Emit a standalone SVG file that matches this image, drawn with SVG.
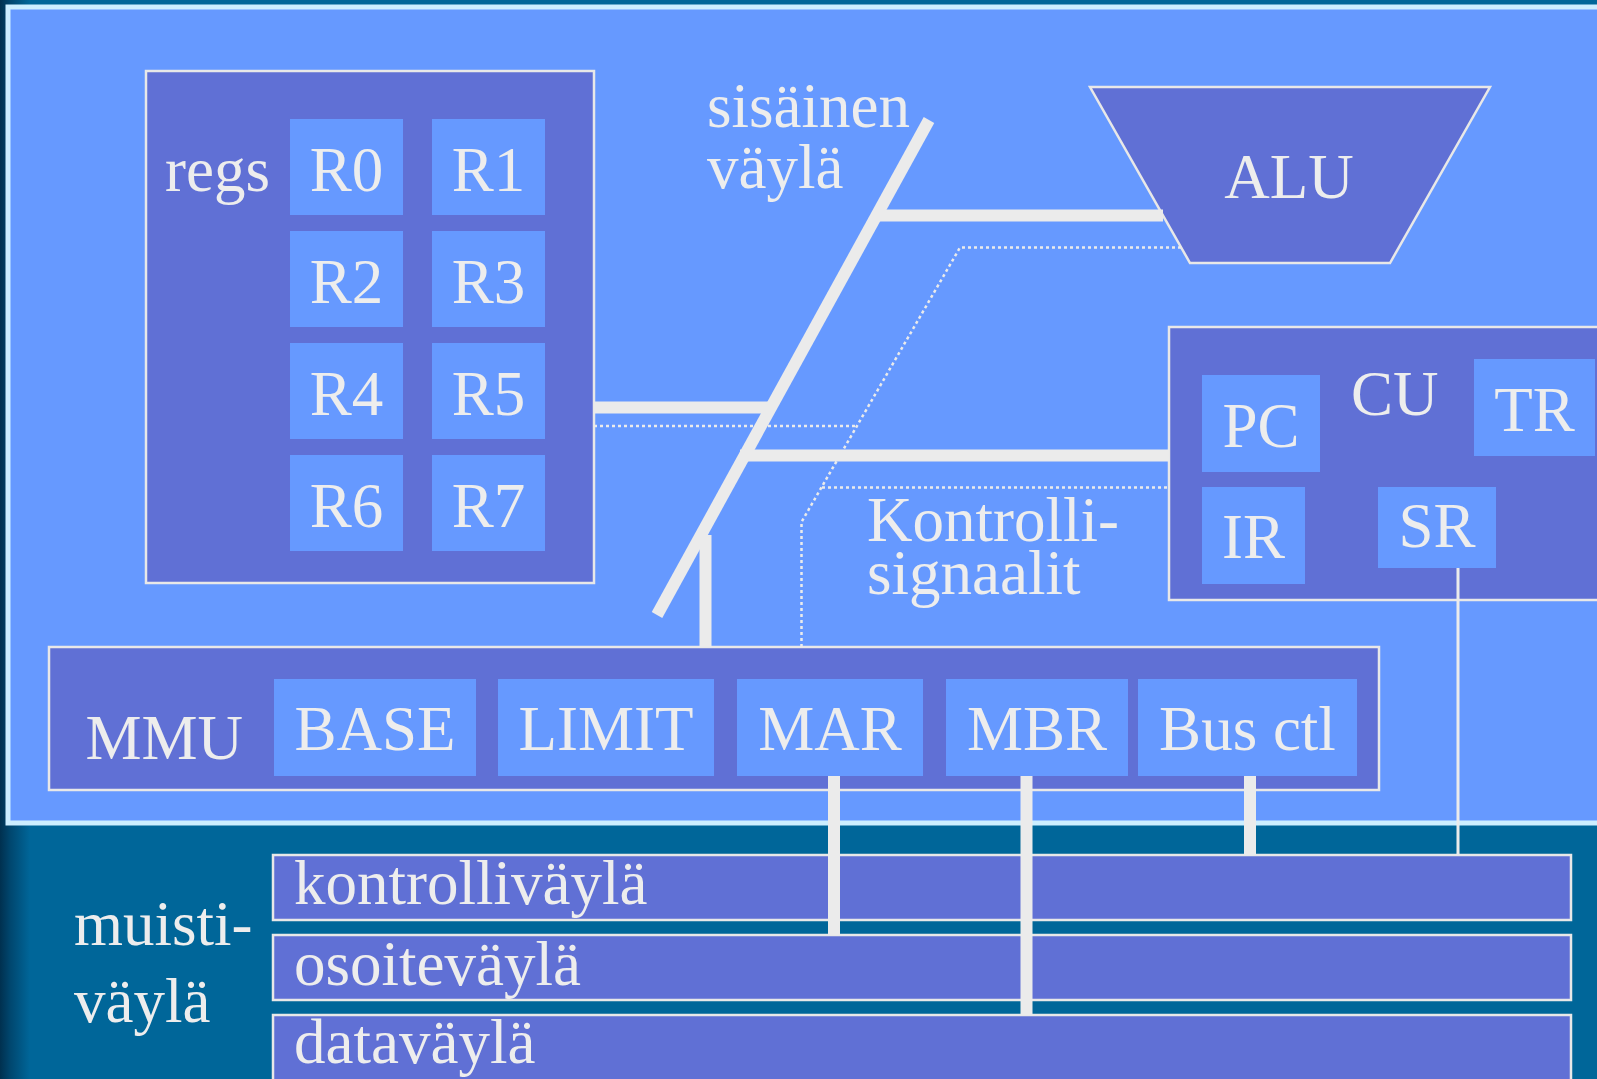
<svg xmlns="http://www.w3.org/2000/svg" width="1597" height="1079" viewBox="0 0 1597 1079">
<defs>
<linearGradient id="edge" x1="0" x2="1" y1="0" y2="0">
<stop offset="0" stop-color="#00304f"/>
<stop offset="0.35" stop-color="#00476f"/>
<stop offset="1" stop-color="#006699"/>
</linearGradient>
<style>
.t{font-family:"Liberation Serif","Times New Roman",serif;font-size:63px;fill:#EDEDED}
.m{text-anchor:middle}
.box{fill:#6070D5;stroke:#E8E8E8;stroke-width:2.5}
.reg{fill:#6699FF}
.bar{stroke:#EBEBEB;stroke-width:12;fill:none}
.thin{stroke:#EBEBEB;stroke-width:3;fill:none}
.dot{stroke:#EBEBEB;stroke-width:2.5;stroke-dasharray:3 3;fill:none}
</style>
</defs>
<rect width="1597" height="1079" fill="#006699"/>
<rect x="0" y="0" width="30" height="1079" fill="url(#edge)"/>
<rect x="8" y="7" width="1600" height="816" fill="#6699FF" stroke="#CCEEFF" stroke-width="5"/>

<g id="regs">
<rect class="box" x="146" y="71" width="448" height="512"/>
<text class="t" x="165" y="191">regs</text>
<rect class="reg" x="290" y="119" width="113" height="96"/><text class="t m" x="346.5" y="191">R0</text>
<rect class="reg" x="432" y="119" width="113" height="96"/><text class="t m" x="488.5" y="191">R1</text>
<rect class="reg" x="290" y="231" width="113" height="96"/><text class="t m" x="346.5" y="303">R2</text>
<rect class="reg" x="432" y="231" width="113" height="96"/><text class="t m" x="488.5" y="303">R3</text>
<rect class="reg" x="290" y="343" width="113" height="96"/><text class="t m" x="346.5" y="415">R4</text>
<rect class="reg" x="432" y="343" width="113" height="96"/><text class="t m" x="488.5" y="415">R5</text>
<rect class="reg" x="290" y="455" width="113" height="96"/><text class="t m" x="346.5" y="527">R6</text>
<rect class="reg" x="432" y="455" width="113" height="96"/><text class="t m" x="488.5" y="527">R7</text>
</g>

<g id="alu">
<polygon class="box" points="1090,87 1490,87 1390,263 1190,263"/>
<text class="t m" x="1289" y="198">ALU</text>
</g>

<g id="cu">
<rect class="box" x="1169" y="327" width="440" height="273"/>
<text class="t" x="1351" y="415">CU</text>
<rect class="reg" x="1202" y="375" width="118" height="97"/><text class="t m" x="1261" y="447">PC</text>
<rect class="reg" x="1474" y="359" width="121" height="97"/><text class="t m" x="1534.5" y="431">TR</text>
<rect class="reg" x="1202" y="487" width="103" height="97"/><text class="t m" x="1253.5" y="558">IR</text>
<rect class="reg" x="1378" y="487" width="118" height="81"/><text class="t m" x="1437" y="547">SR</text>
</g>

<g id="mmu">
<rect class="box" x="49" y="647" width="1330" height="143"/>
<text class="t" x="85.5" y="759">MMU</text>
<rect class="reg" x="274" y="679" width="202" height="97"/><text class="t m" x="375" y="750">BASE</text>
<rect class="reg" x="498" y="679" width="216" height="97"/><text class="t m" x="606" y="750">LIMIT</text>
<rect class="reg" x="737" y="679" width="186" height="97"/><text class="t m" x="830" y="750">MAR</text>
<rect class="reg" x="946" y="679" width="182" height="97"/><text class="t m" x="1037" y="750">MBR</text>
<rect class="reg" x="1138" y="679" width="219" height="97"/><text class="t m" x="1247.5" y="750">Bus ctl</text>
</g>

<g id="membus">
<rect class="box" x="273" y="855" width="1298" height="65"/>
<text class="t" x="294" y="904">kontrolliväylä</text>
<rect class="box" x="273" y="935" width="1298" height="65"/>
<text class="t" x="294" y="985">osoiteväylä</text>
<rect class="box" x="273" y="1015" width="1298" height="80"/>
<text class="t" x="294" y="1063">dataväylä</text>
</g>

<g id="labels">
<text class="t" x="74" y="945">muisti-<tspan x="74" y="1022">väylä</tspan></text>
<text class="t" x="707" y="127">sisäinen<tspan x="707" y="188">väylä</tspan></text>
<text class="t" x="867" y="541">Kontrolli-<tspan x="867" y="594">signaalit</tspan></text>
</g>

<g id="connectors">
<path class="dot" d="M1181,247.5 H960 L801.5,522 V647"/>
<path class="dot" d="M594,426 H858"/>
<path class="dot" d="M822,487.5 H1169"/>
<line class="bar" x1="876" y1="215.5" x2="1163" y2="215.5"/>
<line class="bar" x1="594" y1="407.5" x2="771" y2="407.5"/>
<line class="bar" x1="740" y1="455.5" x2="1169" y2="455.5"/>
<line class="bar" x1="705.5" y1="535" x2="705.5" y2="647"/>
<line class="bar" x1="929" y1="120" x2="657" y2="615"/>
<line class="bar" x1="834" y1="776" x2="834" y2="935"/>
<line class="bar" x1="1026.5" y1="776" x2="1026.5" y2="1015"/>
<line class="bar" x1="1250" y1="776" x2="1250" y2="855"/>
<line class="thin" x1="1458" y1="568" x2="1458" y2="855"/>
</g>
</svg>
